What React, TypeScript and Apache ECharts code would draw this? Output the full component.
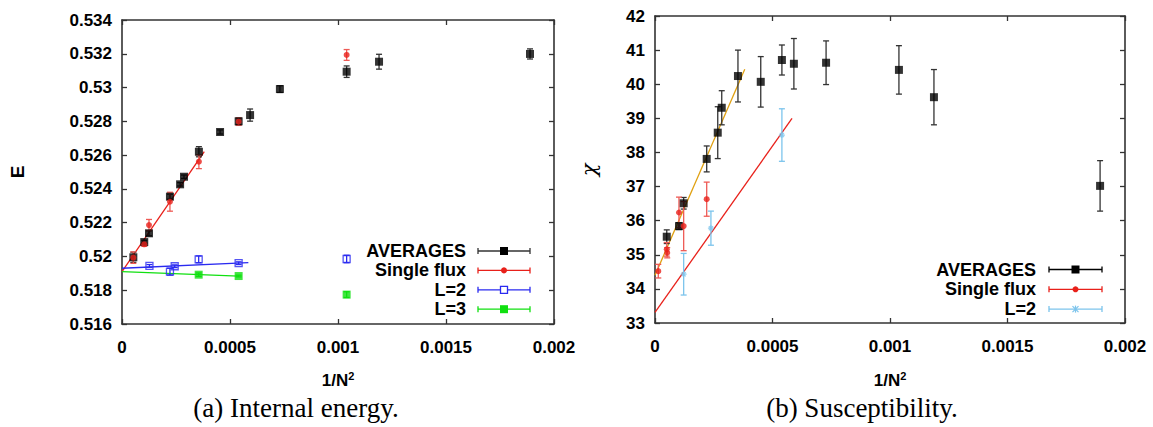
import React, { useEffect, useRef } from "react";
import * as echarts from "echarts";

// ---- Data (x = 1/N^2, y, error) ----
const xTicks = [0, 0.0005, 0.001, 0.0015, 0.002];

const avgE: number[][] = [
  [0.0000525, 0.51995, 0.0003],
  [0.000103, 0.52085, 0.0001],
  [0.000125, 0.52137, 0.00015],
  [0.000222, 0.52354, 0.00015],
  [0.000269, 0.52427, 0.0001],
  [0.000287, 0.52472, 0.0001],
  [0.000356, 0.5262, 0.0003],
  [0.000454, 0.52737, 0.00012],
  [0.00054, 0.528, 0.0002],
  [0.000593, 0.52837, 0.00036],
  [0.000731, 0.52991, 0.0002],
  [0.00104, 0.53094, 0.00034],
  [0.00119, 0.53153, 0.00044],
  [0.001889, 0.53199, 0.0003],
];
const singleE: number[][] = [
  [0.0000525, 0.51993, 0.00034],
  [0.000103, 0.52072, 0.00012],
  [0.000125, 0.52186, 0.00033],
  [0.000222, 0.52324, 0.00056],
  [0.000356, 0.52561, 0.00041],
  [0.00054, 0.52798, 0.00022],
  [0.00104, 0.53193, 0.00032],
];
const l2E: number[][] = [
  [0.000127, 0.51944, 0.00008],
  [0.000222, 0.5191, 0.0002],
  [0.000244, 0.51942, 0.00008],
  [0.000355, 0.51983, 0.0002],
  [0.00054, 0.5196, 0.00008],
  [0.00104, 0.51985, 0.00022],
];
const l3E: number[][] = [
  [0.000355, 0.51892, 0.0001],
  [0.00054, 0.51884, 0.00005],
  [0.00104, 0.51774, 0.00017],
];
const fitSingleE = [[0, 0.5191], [0.000381, 0.5262]];
const fitL2E = [[0, 0.5193], [0.000585, 0.51963]];
const fitL3E = [[0, 0.5191], [0.00054, 0.51884]];

const avgChi: number[][] = [
  [0.00005, 35.53, 0.2],
  [0.000102, 35.84, 0.1],
  [0.000122, 36.51, 0.17],
  [0.00022, 37.81, 0.38],
  [0.000267, 38.58, 0.76],
  [0.000284, 39.31, 0.5],
  [0.000353, 40.24, 0.76],
  [0.00045, 40.07, 0.74],
  [0.00054, 40.71, 0.44],
  [0.000591, 40.6, 0.74],
  [0.000728, 40.63, 0.64],
  [0.001038, 40.42, 0.71],
  [0.001187, 39.62, 0.81],
  [0.001894, 37.02, 0.74],
];
const singleChi: number[][] = [
  [0.000014, 34.52, 0.2],
  [0.00005, 35.16, 0.2],
  [0.000052, 35.06, 0.15],
  [0.000102, 36.24, 0.45],
  [0.000122, 35.84, 0.72],
  [0.00022, 36.63, 0.5],
];
const l2Chi: number[][] = [
  [0.000122, 34.43, 0.61],
  [0.000238, 35.78, 0.5],
  [0.00054, 38.51, 0.77],
];
const fitAvgChi = [[0, 34.4], [0.000382, 40.44]];
const fitL2Chi = [[0, 33.31], [0.000583, 39.0]];

const legendE = ["AVERAGES", "Single flux", "L=2", "L=3"];
const legendChi = ["AVERAGES", "Single flux", "L=2"];
const captions = ["(a) Internal energy.", "(b) Susceptibility."];

// ---- styles ----
const C_AVG = "#000000";
const C_AVG_BAR = "#333333";
const C_SINGLE = "#e8201a";
const C_SINGLE_BAR = "#ee5a55";
const C_L2E = "#2a2af0";
const C_L3E = "#10e010";
const C_L2CHI = "#7cc4ec";
const C_FIT_ORANGE = "#e0a010";
const AXIS = "#333333";
const FONT = "'Liberation Sans', Arial, sans-serif";
const STAR = "path://M5 0L5 10M0 5L10 5M1.5 1.5L8.5 8.5M8.5 1.5L1.5 8.5";

function fmtX(v: number) {
  return String(parseFloat(v.toFixed(4)));
}

function errSeries(data: number[][], color: string, xi: number, yi: number) {
  return {
    type: "custom",
    xAxisIndex: xi,
    yAxisIndex: yi,
    data,
    encode: { x: 0, y: 1 },
    z: 2,
    silent: true,
    renderItem: (_p: any, api: any) => {
      const x = api.value(0);
      const y = api.value(1);
      const e = api.value(2);
      const a = api.coord([x, y - e]);
      const b = api.coord([x, y + e]);
      const st = { stroke: color, lineWidth: 1.3 };
      return {
        type: "group",
        children: [
          { type: "line", shape: { x1: a[0], y1: a[1], x2: b[0], y2: b[1] }, style: st },
          { type: "line", shape: { x1: a[0] - 3, y1: a[1], x2: a[0] + 3, y2: a[1] }, style: st },
          { type: "line", shape: { x1: b[0] - 3, y1: b[1], x2: b[0] + 3, y2: b[1] }, style: st },
        ],
      };
    },
  };
}

function pts(data: number[][], xi: number, yi: number, symbol: string, size: number, color: string, empty = false) {
  return {
    type: "scatter",
    xAxisIndex: xi,
    yAxisIndex: yi,
    data: data.map((d) => [d[0], d[1]]),
    symbol,
    symbolSize: size,
    z: 3,
    itemStyle: empty
      ? { color: "rgba(255,255,255,0)", borderColor: color, borderWidth: 1.3 }
      : symbol.startsWith("path://")
      ? { color: "none", borderColor: color, borderWidth: 1.2 }
      : { color },
  };
}

function fit(data: number[][], color: string, xi: number, yi: number) {
  return {
    type: "line",
    xAxisIndex: xi,
    yAxisIndex: yi,
    data,
    symbol: "none",
    z: 1,
    lineStyle: { color, width: 1.3 },
  };
}

function xAx(grid: number, top: boolean) {
  return {
    type: "value",
    gridIndex: grid,
    position: top ? "top" : "bottom",
    min: xTicks[0],
    max: xTicks[xTicks.length - 1],
    interval: xTicks[1] - xTicks[0],
    splitLine: { show: false },
    axisLine: { show: true, onZero: false, lineStyle: { color: AXIS, width: 1.6 } },
    axisTick: { show: true, inside: true, length: 5, lineStyle: { color: AXIS, width: 1.3 } },
    axisLabel: {
      show: !top,
      margin: 15,
      color: "#000",
      fontWeight: "bold",
      fontSize: 17,
      fontFamily: FONT,
      formatter: (v: number) => fmtX(v),
    },
  };
}

function yAx(grid: number, right: boolean, min: number, max: number, interval: number, dec: number) {
  return {
    type: "value",
    gridIndex: grid,
    position: right ? "right" : "left",
    min,
    max,
    interval,
    splitLine: { show: false },
    axisLine: { show: true, onZero: false, lineStyle: { color: AXIS, width: 1.6 } },
    axisTick: { show: true, inside: true, length: 5, lineStyle: { color: AXIS, width: 1.3 } },
    axisLabel: {
      show: !right,
      margin: 10,
      color: "#000",
      fontWeight: "bold",
      fontSize: 17,
      fontFamily: FONT,
      formatter: (v: number) => String(parseFloat(v.toFixed(dec))),
    },
  };
}

type LegItem = { label: string; color: string; bar: string; symbol: string };

function legendGraphics(items: LegItem[], textRight: number, lineL: number, lineR: number, y0: number, dy: number) {
  const out: any[] = [];
  items.forEach((it, i) => {
    const y = y0 + i * dy;
    const mx = (lineL + lineR) / 2;
    out.push({
      type: "text",
      x: textRight,
      y,
      style: {
        text: it.label,
        align: "right",
        verticalAlign: "middle",
        font: `bold 18px ${FONT}`,
        fill: "#000",
      },
    });
    const st = { stroke: it.bar, lineWidth: 1.3 };
    out.push({ type: "line", shape: { x1: lineL, y1: y, x2: lineR, y2: y }, style: st });
    out.push({ type: "line", shape: { x1: lineL, y1: y - 3, x2: lineL, y2: y + 3 }, style: st });
    out.push({ type: "line", shape: { x1: lineR, y1: y - 3, x2: lineR, y2: y + 3 }, style: st });
    if (it.symbol === "rect") {
      out.push({ type: "rect", shape: { x: mx - 4, y: y - 4, width: 8, height: 8 }, style: { fill: it.color } });
    } else if (it.symbol === "emptyRect") {
      out.push({ type: "rect", shape: { x: mx - 3.5, y: y - 3.5, width: 7, height: 7 }, style: { fill: "#fff", stroke: it.color, lineWidth: 1.3 } });
    } else if (it.symbol === "circle") {
      out.push({ type: "circle", shape: { cx: mx, cy: y, r: 3 }, style: { fill: it.color } });
    } else {
      out.push({ type: "line", shape: { x1: mx - 3, y1: y - 3, x2: mx + 3, y2: y + 3 }, style: { stroke: it.color, lineWidth: 1.2 } });
      out.push({ type: "line", shape: { x1: mx - 3, y1: y + 3, x2: mx + 3, y2: y - 3 }, style: { stroke: it.color, lineWidth: 1.2 } });
      out.push({ type: "line", shape: { x1: mx, y1: y - 3.5, x2: mx, y2: y + 3.5 }, style: { stroke: it.color, lineWidth: 1.2 } });
    }
  });
  return out;
}

const xTitle = (x: number) => ({
  type: "text",
  x,
  y: 380,
  style: {
    text: "1/N{s|2}",
    rich: { s: { fontSize: 11, fontWeight: "bold", fontFamily: FONT, verticalAlign: "top", padding: [0, 0, 8, 0] } },
    font: `bold 17px ${FONT}`,
    align: "center",
    verticalAlign: "middle",
    fill: "#000",
  },
});

const caption = (x: number, text: string) => ({
  type: "text",
  x,
  y: 408,
  style: { text, font: `27px 'Liberation Serif', 'DejaVu Serif', serif`, align: "center", verticalAlign: "middle", fill: "#000" },
});

export default function App() {
  const ref = useRef<HTMLDivElement>(null);
  useEffect(() => {
    if (!ref.current) return;
    const chart = echarts.init(ref.current, null, { renderer: "svg" });
    const legE: LegItem[] = [
      { label: legendE[0], color: C_AVG, bar: C_AVG_BAR, symbol: "rect" },
      { label: legendE[1], color: C_SINGLE, bar: C_SINGLE, symbol: "circle" },
      { label: legendE[2], color: C_L2E, bar: C_L2E, symbol: "emptyRect" },
      { label: legendE[3], color: C_L3E, bar: C_L3E, symbol: "rect" },
    ];
    const legC: LegItem[] = [
      { label: legendChi[0], color: C_AVG, bar: C_AVG, symbol: "rect" },
      { label: legendChi[1], color: C_SINGLE, bar: C_SINGLE, symbol: "circle" },
      { label: legendChi[2], color: C_L2CHI, bar: C_L2CHI, symbol: "star" },
    ];
    const option: any = {
      animation: false,
      backgroundColor: "#fff",
      grid: [
        { left: 122, top: 20, width: 432, height: 304 },
        { left: 655, top: 16, width: 470, height: 307 },
      ],
      xAxis: [xAx(0, false), xAx(0, true), xAx(1, false), xAx(1, true)],
      yAxis: [
        yAx(0, false, 0.516, 0.534, 0.002, 3),
        yAx(0, true, 0.516, 0.534, 0.002, 3),
        yAx(1, false, 33, 42, 1, 0),
        yAx(1, true, 33, 42, 1, 0),
      ],
      series: [
        fit(fitSingleE, C_SINGLE, 0, 0),
        fit(fitL2E, C_L2E, 0, 0),
        fit(fitL3E, C_L3E, 0, 0),
        errSeries(avgE, C_AVG_BAR, 0, 0),
        pts(avgE, 0, 0, "rect", 8, C_AVG),
        errSeries(singleE, C_SINGLE_BAR, 0, 0),
        pts(singleE, 0, 0, "circle", 6, C_SINGLE),
        errSeries(l2E, C_L2E, 0, 0),
        pts(l2E, 0, 0, "rect", 7, C_L2E, true),
        errSeries(l3E, C_L3E, 0, 0),
        pts(l3E, 0, 0, "rect", 8, C_L3E),
        fit(fitAvgChi, C_FIT_ORANGE, 2, 2),
        fit(fitL2Chi, C_SINGLE, 2, 2),
        errSeries(avgChi, C_AVG_BAR, 2, 2),
        pts(avgChi, 2, 2, "rect", 8, C_AVG),
        errSeries(singleChi, C_SINGLE_BAR, 2, 2),
        pts(singleChi, 2, 2, "circle", 6, C_SINGLE),
        errSeries(l2Chi, C_L2CHI, 2, 2),
        pts(l2Chi, 2, 2, STAR, 6, C_L2CHI),
      ],
      graphic: [
        xTitle(338),
        xTitle(890),
        {
          type: "text",
          x: 17,
          y: 172,
          rotation: Math.PI / 2,
          style: { text: "E", font: `bold 19px ${FONT}`, align: "center", verticalAlign: "middle", fill: "#000" },
        },
        {
          type: "text",
          x: 589,
          y: 170,
          rotation: Math.PI / 2,
          style: { text: "χ", font: `italic 21px 'DejaVu Serif', serif`, align: "center", verticalAlign: "middle", fill: "#000" },
        },
        caption(296, captions[0]),
        caption(862, captions[1]),
        ...legendGraphics(legE, 466, 478, 530, 251, 19.4),
        ...legendGraphics(legC, 1036, 1049, 1102, 269.5, 19.8),
      ],
    };
    chart.setOption(option);
    return () => chart.dispose();
  }, []);
  return (
    <div
      ref={ref}
      style={{ position: "fixed", left: 0, top: 0, width: 1153, height: 427, background: "#fff" }}
    />
  );
}
